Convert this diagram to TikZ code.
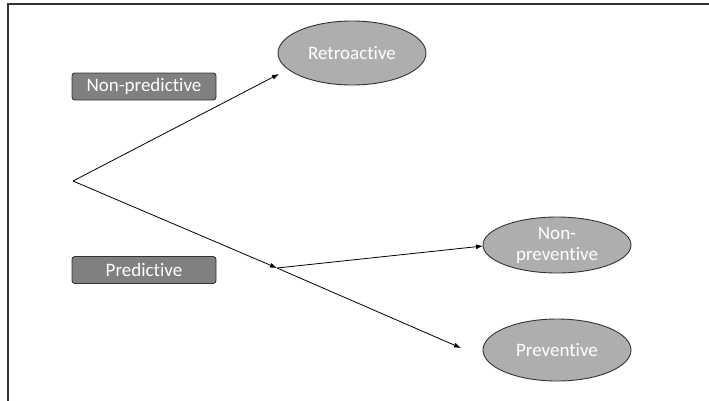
\documentclass[tikz,border=0pt]{standalone}
\usepackage{fontspec}
\setmainfont{Carlito}[RawFeature={-liga;-clig;-dlig;-calt;-rlig}]
\usetikzlibrary{shapes.geometric,arrows.meta}
\definecolor{ellfill}{HTML}{AEAEB0}
\definecolor{boxfill}{HTML}{808083}
\definecolor{edge}{HTML}{333333}
\tikzset{
  ell/.style={ellipse, draw=edge, line width=0.9pt, fill=ellfill, text=white, minimum width=148pt, inner sep=0pt, align=center, font=\fontsize{19}{21}\selectfont},
  lbox/.style={rectangle, rounded corners=3pt, draw=edge, line width=0.9pt, fill=boxfill, text=white, minimum width=144pt, minimum height=27pt, inner sep=0pt, font=\fontsize{19}{21}\selectfont},
  conn/.style={line width=0.8pt, -{Latex[length=7pt,width=5pt]}},
}
\begin{document}
\begin{tikzpicture}[x=1pt,y=-1pt]
\useasboundingbox (0,0) rectangle (709,400);
\draw[line width=1.4pt, draw=edge] (8,410) -- (8,4) -- (720,4);
\node[ell, minimum height=64pt] (retro) at (352,53) {Retroactive};
\node[ell, minimum height=56pt] (nonprev) at (557,245) {Non-\\preventive};
\node[ell, minimum height=62pt] (prev) at (557,350) {Preventive};
\node[lbox] (nonpred) at (144,86.5) {Non-predictive};
\node[lbox] (pred) at (144,270) {Predictive};
\coordinate (o) at (73,181);
\coordinate (j) at (277,268);
\coordinate (rt) at (279,74);
\coordinate (nt) at (483,246);
\coordinate (pt) at (461,348);
\draw[conn] (o) -- (rt);
\draw[conn] (o) -- (j);
\draw[conn] (j) -- (nt);
\draw[conn] (j) -- (pt);
\end{tikzpicture}
\end{document}
